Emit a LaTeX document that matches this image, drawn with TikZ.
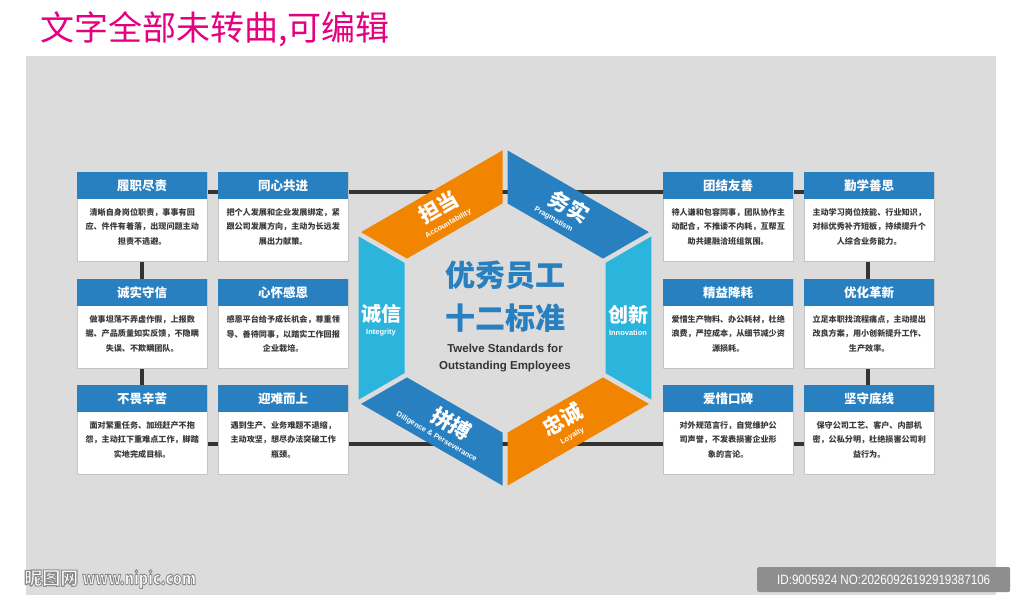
\documentclass[tikz,border=0pt]{standalone}
\usepackage{fontspec}
\usepackage{graphicx}
\setmainfont{Liberation Sans}
\newfontfamily\cjk{Noto Sans CJK SC}
\definecolor{panel}{HTML}{DCDCDC}
\definecolor{hblue}{HTML}{2880C1}
\definecolor{horange}{HTML}{F18400}
\definecolor{hcyan}{HTML}{2BB4DC}
\definecolor{lineblk}{HTML}{333333}
\definecolor{bodytxt}{HTML}{3A3A3A}
\definecolor{titlepink}{HTML}{E4007F}
\definecolor{cardedge}{HTML}{C4C4C4}
\definecolor{idgray}{HTML}{8E8E8E}
\tikzset{
  cardbox/.style={draw=cardedge, line width=0.8pt, fill=white, minimum width=130pt, minimum height=89pt, anchor=north west, inner sep=0pt},
  cardhead/.style={fill=hblue, minimum width=130pt, minimum height=27pt, anchor=north west, inner sep=0pt, text=white, font=\cjk\bfseries\fontsize{12.5}{14}\selectfont},
  cardbody/.style={anchor=north, align=center, inner sep=0pt, text=bodytxt, font=\cjk\bfseries\fontsize{8.1}{14.7}\selectfont},
  hexlab/.style={text=white, inner sep=0pt, align=center},
}
\newcommand\cnl[1]{{\cjk\bfseries\fontsize{21}{21}\selectfont #1}}
\newcommand\cns[1]{{\cjk\bfseries\fontsize{20}{20}\selectfont #1}}
\newcommand\enl[1]{{\bfseries\fontsize{7.5}{8}\selectfont #1}}
\newcommand\outlinetext[1]{\special{pdf:code q 2 Tr 1.1 w 0.55 G}#1\special{pdf:code Q}}
\newcommand\mycard[5]{%
  \node[cardbox] (#1) at (#2,#3) {};
  \node[cardhead] (#1h) at (#2,#3) {#4};
  \node[cardbody, yshift=-8.6pt] (#1b) at (#1h.south) {#5};
}
\begin{document}
\begin{tikzpicture}[x=1pt,y=-1pt]
\useasboundingbox (0,0) rectangle (1024,608);
\fill[white] (0,0) rectangle (1024,608);
\fill[panel] (26,56) rectangle (996,595);
\node[anchor=west, inner sep=0pt, text=titlepink, font=\cjk\fontsize{34}{34}\selectfont] (title) at (40,29) {文字全部未转曲,可编辑};
% connector frame
\coordinate (fa) at (142,192);
\coordinate (fb) at (868,444);
\draw[lineblk, line width=4pt] (fa) rectangle (fb);
% hexagon pieces
\fill[horange] (361.1,232.1) -- (502.5,150.4) -- (502.5,203.4) -- (407,258.6) -- cycle;
\fill[hblue] (648.9,232.1) -- (507.5,150.4) -- (507.5,203.4) -- (603,258.6) -- cycle;
\fill[hcyan] (358.6,236.4) -- (404.5,262.9) -- (404.5,373.1) -- (358.6,399.6) -- cycle;
\fill[hcyan] (651.4,236.4) -- (605.5,262.9) -- (605.5,373.1) -- (651.4,399.6) -- cycle;
\fill[hblue] (361.1,403.9) -- (502.5,485.6) -- (502.5,432.6) -- (407,377.4) -- cycle;
\fill[horange] (648.9,403.9) -- (507.5,485.6) -- (507.5,432.6) -- (603,377.4) -- cycle;
% hexagon labels
\node[hexlab, rotate=30] (l1) at (442,213) {\cnl{担当}\\[1pt]\enl{Accountability}};
\node[hexlab, rotate=-30] (l2) at (566,212) {\cnl{务实}\\[1pt]\hspace*{-14pt}\enl{Pragmatism}};
\node[hexlab] (l3) at (381,320) {\cns{诚信}\\[1pt]\enl{Integrity}};
\node[hexlab] (l4) at (628,320) {\cns{创新}\\[1pt]\enl{Innovation}};
\node[hexlab, rotate=-30] (l5) at (443,426) {\hspace*{12pt}\cnl{拼搏}\\[1pt]\enl{Diligence \& Perseverance}};
\node[hexlab, rotate=30] (l6) at (566,425) {\cnl{忠诚}\\[1pt]\enl{Loyalty}};
% centre text
\node[inner sep=0pt, text=hblue, font=\cjk\bfseries\fontsize{30}{30}\selectfont] (t1) at (505,275) {优秀员工};
\node[inner sep=0pt, text=hblue, font=\cjk\bfseries\fontsize{30}{30}\selectfont] (t2) at (505,318) {十二标准};
\node[inner sep=0pt, text=lineblk, align=center, font=\bfseries\fontsize{11.5}{17}\selectfont] (t3) at (505,358) {Twelve Standards for\\Outstanding Employees};
% cards left
\mycard{c1}{77}{172}{履职尽责}{清晰自身岗位职责，事事有回\\应、件件有着落，出现问题主动\\担责不逃避。}
\mycard{c2}{218}{172}{同心共进}{把个人发展和企业发展绑定，紧\\跟公司发展方向，主动为长远发\\展出力献策。}
\mycard{c3}{77}{279}{诚实守信}{做事坦荡不弄虚作假，上报数\\据、产品质量如实反馈，不隐瞒\\失误、不欺瞒团队。}
\mycard{c4}{218}{279}{心怀感恩}{感恩平台给予成长机会，尊重领\\导、善待同事，以踏实工作回报\\企业栽培。}
\mycard{c5}{77}{385}{不畏辛苦}{面对繁重任务、加班赶产不抱\\怨，主动扛下重难点工作，脚踏\\实地完成目标。}
\mycard{c6}{218}{385}{迎难而上}{遇到生产、业务难题不退缩，\\主动攻坚，想尽办法突破工作\\瓶颈。}
% cards right
\mycard{c7}{663}{172}{团结友善}{待人谦和包容同事，团队协作主\\动配合，不推诿不内耗，互帮互\\助共建融洽班组氛围。}
\mycard{c8}{804}{172}{勤学善思}{主动学习岗位技能、行业知识，\\对标优秀补齐短板，持续提升个\\人综合业务能力。}
\mycard{c9}{663}{279}{精益降耗}{爱惜生产物料、办公耗材，杜绝\\浪费，严控成本，从细节减少资\\源损耗。}
\mycard{c10}{804}{279}{优化革新}{立足本职找流程痛点，主动提出\\改良方案，用小创新提升工作、\\生产效率。}
\mycard{c11}{663}{385}{爱惜口碑}{对外规范言行，自觉维护公\\司声誉，不发表损害企业形\\象的言论。}
\mycard{c12}{804}{385}{坚守底线}{保守公司工艺、客户、内部机\\密，公私分明，杜绝损害公司利\\益行为。}
% watermark
\node[anchor=west, inner sep=0pt, text=white, font=\cjk\bfseries\fontsize{18}{20}\selectfont] (wm) at (24,579) {\outlinetext{昵图网 \scalebox{0.8}[1]{www.nipic.com}}};
\node[anchor=west, fill=idgray, rounded corners=2pt, minimum width=253pt, minimum height=25pt, inner sep=0pt, text=white, font=\fontsize{13.5}{14}\selectfont] (idbox) at (757,579.5) {\scalebox{0.86}[1]{ID:9005924 NO:20260926192919387106}};
\end{tikzpicture}
\end{document}
